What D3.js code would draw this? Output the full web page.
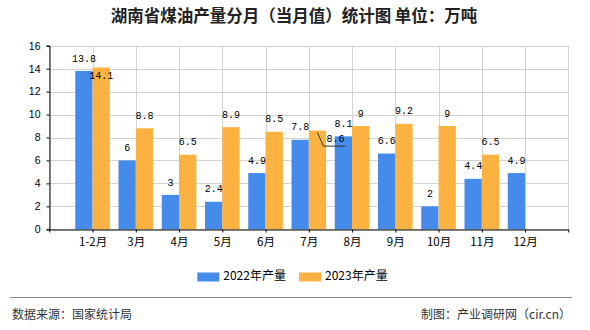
<!DOCTYPE html>
<html><head><meta charset="utf-8">
<script src="https://cdn.jsdelivr.net/npm/d3@7"></script>
<style>body{margin:0;background:#fff}svg{display:block}</style>
</head><body><svg id="c" width="590" height="330"></svg>
<script>
const categories = ["1-2月","3月","4月","5月","6月","7月","8月","9月","10月","11月","12月"];
const values2022 = [13.8, 6, 3, 2.4, 4.9, 7.8, 8.1, 6.6, 2, 4.4, 4.9];
const values2023 = [14.1, 8.8, 6.5, 8.9, 8.5, 8.6, 9, 9.2, 9, 6.5, null];
const seriesNames = ["2022年产量", "2023年产量"];
const yTicks = [0, 2, 4, 6, 8, 10, 12, 14, 16];
const colors = ["#458bec", "#fcb240"];

const svg = d3.select("#c");
const L = 49.3, R = 568.3, T = 45.7, B = 229.3;
const x = d3.scaleLinear().domain([0, categories.length + 1]).range([L, R]);
const y = d3.scaleLinear().domain([0, 16]).range([B, T]);
const step = x(1) - x(0);
const bw = step * 0.4;
const cjk = "'Noto Sans CJK SC','Noto Sans',sans-serif";
const mono = "'Liberation Mono','DejaVu Sans Mono',monospace";

// title
svg.append("text").attr("x", 294).attr("y", 18).attr("text-anchor", "middle")
  .attr("dominant-baseline", "middle").attr("font-family", cjk).attr("font-size", 16.5)
  .attr("font-weight", "bold").attr("fill", "#222")
  .text("湖南省煤油产量分月（当月值）统计图 单位：万吨");

// grid
const g = svg.append("g");
g.selectAll(".hg").data(yTicks).enter().append("line")
  .attr("x1", L).attr("x2", R).attr("y1", d => Math.round(y(d)) + 0.5).attr("y2", d => Math.round(y(d)) + 0.5)
  .attr("stroke", "#d3d3d3");
const xt = d3.range(0, categories.length + 2);
g.selectAll(".vg").data(xt).enter().append("line")
  .attr("y1", T).attr("y2", B).attr("x1", d => Math.round(x(d)) + 0.5).attr("x2", d => Math.round(x(d)) + 0.5)
  .attr("stroke", "#d3d3d3");

// bars
const series = [values2022, values2023];
series.forEach((vals, si) => {
  svg.append("g").selectAll("rect").data(vals.map((v, i) => ({v, i})).filter(d => d.v != null))
    .enter().append("rect")
    .attr("x", d => x(d.i + 1) - bw + si * bw)
    .attr("width", bw)
    .attr("y", d => y(d.v))
    .attr("height", d => y(0) - y(d.v))
    .attr("fill", colors[si]);
});

// axes
const yAxis = d3.axisLeft(y).tickValues(yTicks).tickSize(3).tickPadding(6);
const ya = svg.append("g").attr("transform", `translate(${Math.round(L)+0.5},0)`).call(yAxis);
ya.select(".domain").attr("stroke", "#000");
ya.selectAll("text").attr("font-family", "'Liberation Sans',Arial,sans-serif").attr("font-size", 10.5).attr("fill", "#000");
const xAxis = d3.axisBottom(x).tickValues(xt).tickSize(3).tickSizeOuter(0).tickPadding(5)
  .tickFormat(d => (d >= 1 && d <= categories.length) ? categories[d - 1] : "");
const xa = svg.append("g").attr("transform", `translate(0,${Math.round(B)+0.5})`).call(xAxis);
xa.select(".domain").attr("stroke", "#000");
xa.selectAll("text").attr("font-family", cjk).attr("font-size", 11.5).attr("fill", "#000");

// value labels
const lab = svg.append("g").attr("font-family", mono).attr("font-size", 10).attr("fill", "#000")
  .attr("text-anchor", "middle").attr("dominant-baseline", "middle");
const boxW = s => String(s).length * 6 + 2;
categories.forEach((c, i) => {
  const v0 = values2022[i], v1 = values2023[i];
  const bx = x(i + 1) - bw / 2, ox = x(i + 1) + bw / 2;
  let by = null;
  if (v0 != null) {
    by = y(v0) - 12;
    lab.append("text").attr("x", bx).attr("y", by).text(v0);
  }
  if (v1 != null) {
    const top = y(v1);
    let oy = top - 12, tx = ox;
    const overlap = by != null &&
      Math.abs(oy - by) < 11 &&
      Math.abs(ox - bx) < (boxW(v0) + boxW(v1)) / 2;
    if (overlap) {
      if (Math.abs(y(v0) - top) < 5) {
        oy = top + 8.5;
      } else {
        oy = top + 9; tx = ox + 18;
        svg.append("polyline")
          .attr("points", [[ox, top + 2], [ox + 6, top + 15.5], [ox + 28, top + 15.5]].map(p => p.join(",")).join(" "))
          .attr("fill", "none").attr("stroke", "#333").attr("stroke-width", 1);
      }
    }
    lab.append("text").attr("x", tx).attr("y", oy).text(v1);
  }
});

// legend
const lg = svg.append("g").attr("font-family", cjk).attr("font-size", 12);
const lx = [197.3, 299];
seriesNames.forEach((n, i) => {
  lg.append("rect").attr("x", lx[i]).attr("y", 272.5).attr("width", 22).attr("height", 9).attr("fill", colors[i]);
  lg.append("text").attr("x", lx[i] + 26).attr("y", 277).attr("dominant-baseline", "middle").attr("fill", "#000").text(n);
});

// footer
svg.append("line").attr("x1", 10).attr("x2", 572).attr("y1", 297.5).attr("y2", 297.5).attr("stroke", "#888").attr("stroke-width", 1.2);
svg.append("text").attr("x", 12).attr("y", 316).attr("dominant-baseline", "middle")
  .attr("font-family", cjk).attr("font-size", 12).attr("fill", "#333").text("数据来源：国家统计局");
svg.append("text").attr("x", 571).attr("y", 316).attr("dominant-baseline", "middle").attr("text-anchor", "end")
  .attr("font-family", cjk).attr("font-size", 12).attr("fill", "#333").text("制图：产业调研网（cir.cn）");
</script></body></html>
